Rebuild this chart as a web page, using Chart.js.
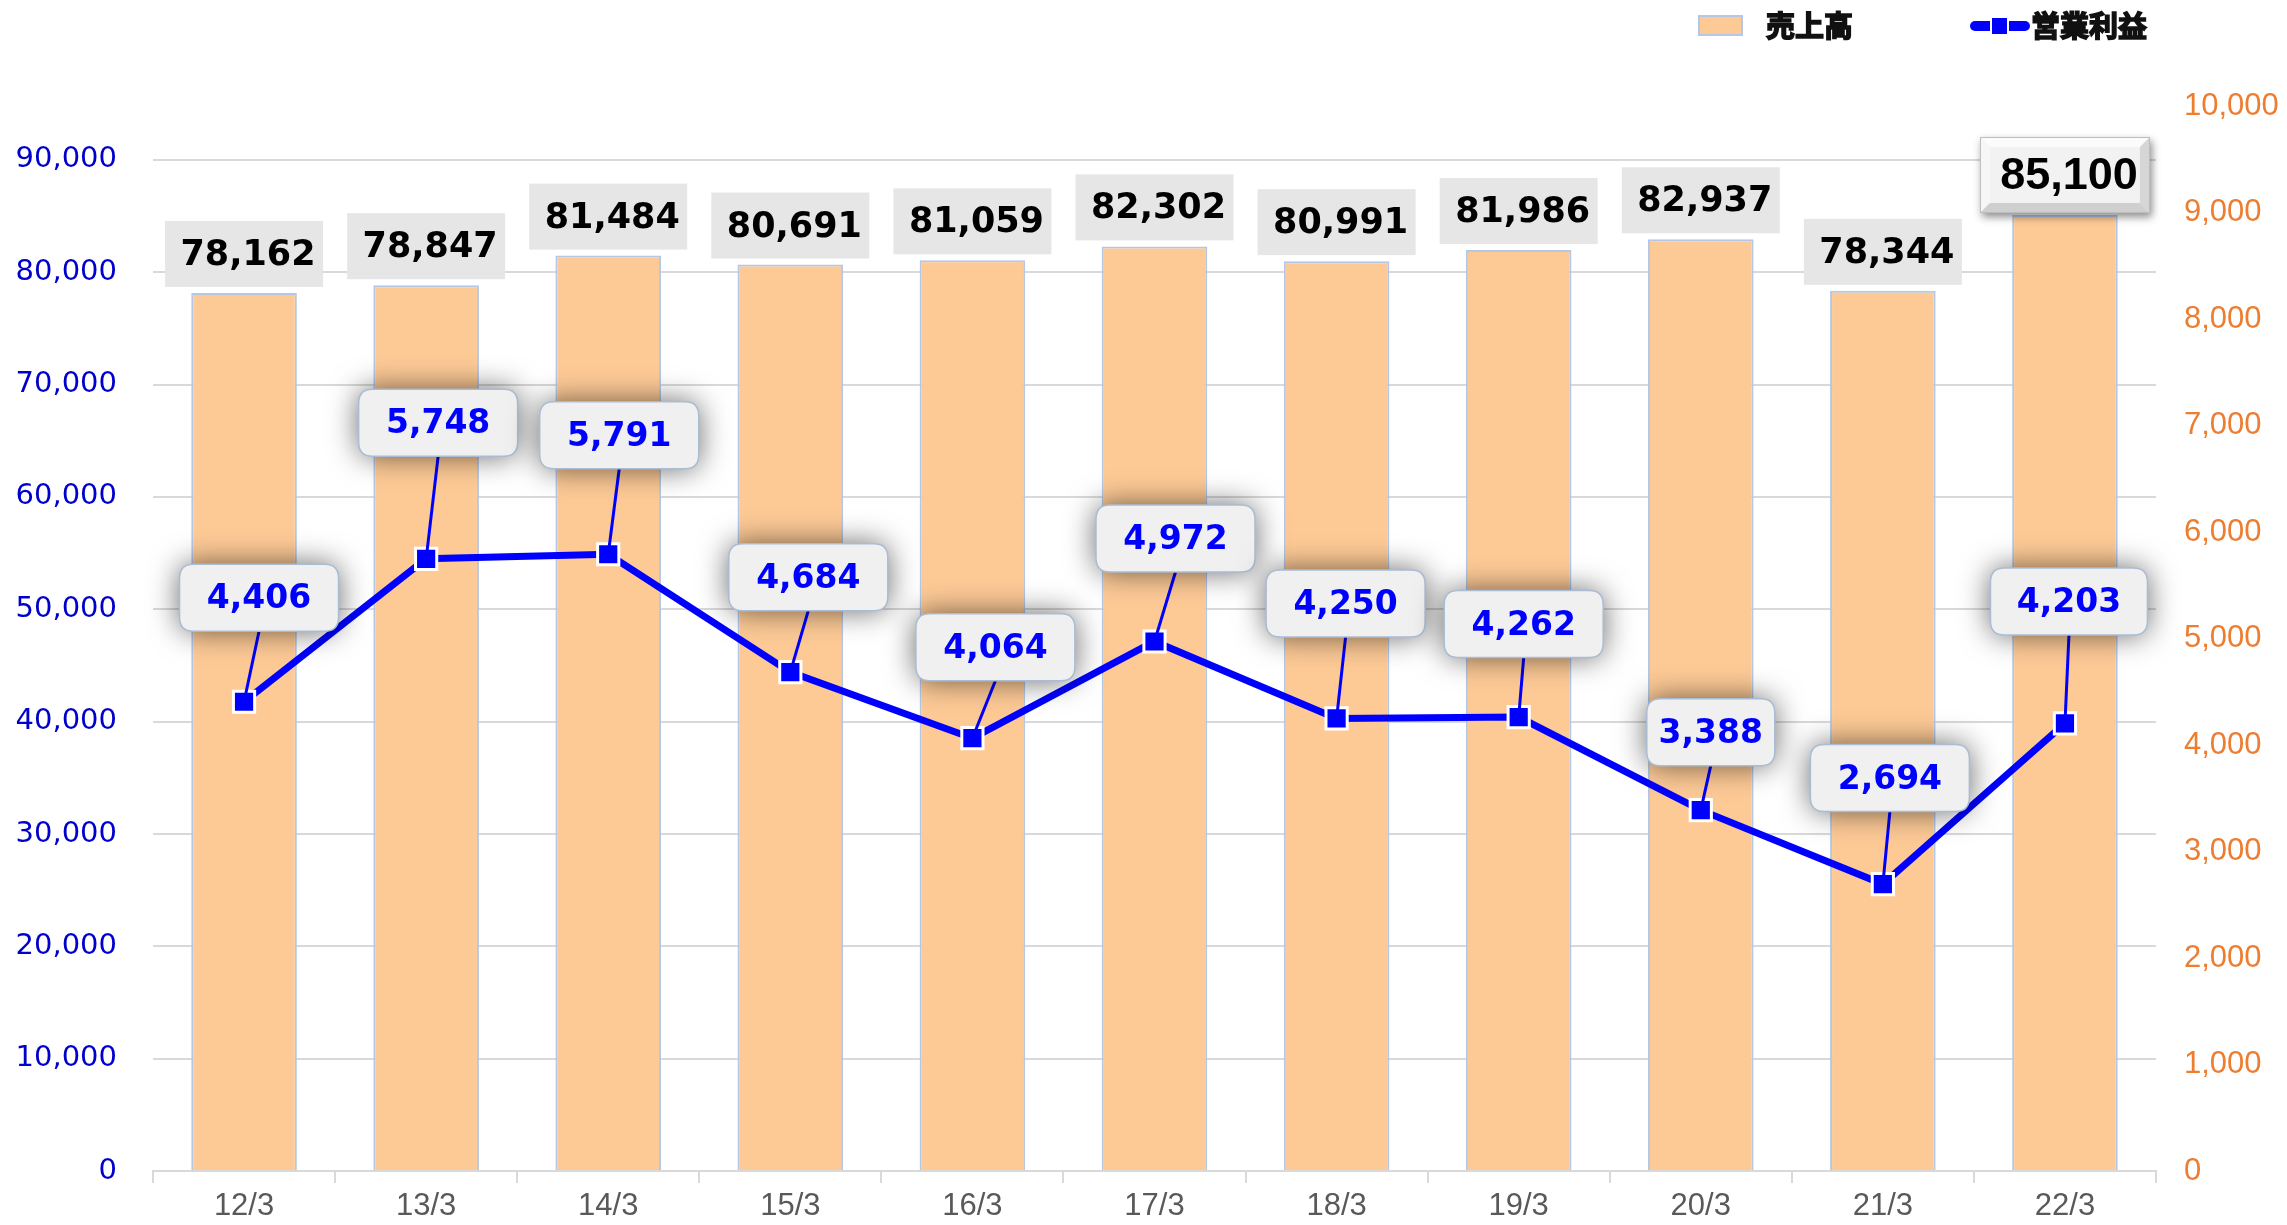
<!DOCTYPE html>
<html>
<head>
<meta charset="utf-8">
<script src="https://cdn.jsdelivr.net/npm/chart.js@4.4.1/dist/chart.umd.min.js"></script>
<style>
  html, body { margin: 0; padding: 0; background: #fff; }
  #wrap { width: 2287px; height: 1225px; }
</style>
</head>
<body>
<div id="wrap"><canvas id="chart" width="2287" height="1225"></canvas></div>
<script>
// data
const categories = ["12/3", "13/3", "14/3", "15/3", "16/3", "17/3", "18/3", "19/3", "20/3", "21/3", "22/3"];
const salesName = "売上高";
const profitName = "営業利益";
const sales = [78162, 78847, 81484, 80691, 81059, 82302, 80991, 81986, 82937, 78344, 85100];
const profit = [4406, 5748, 5791, 4684, 4064, 4972, 4250, 4262, 3388, 2694, 4203];
const leftTicks = [0, 10000, 20000, 30000, 40000, 50000, 60000, 70000, 80000, 90000];

// where the profit callouts sit, relative to their point (px), and how wide they are
const calloutDx = [15, 12, 11, 18, 23, 21, 9, 5, 10, 7, 4];
const calloutDy = [-104, -136, -119, -95, -91, -103, -115, -93, -78, -106, -122];
const calloutW = [159, 159, 159, 159, 159, 159, 159, 159, 128, 159, 157];

const BAR_FILL = "#FDCA96";
const BAR_EDGE = "#B4C7E7";
const LINE_BLUE = "#0000FF";

const fmt = v => Number(v).toLocaleString("en-US");

function roundRect(ctx, x, y, w, h, r) {
    ctx.beginPath();
    ctx.moveTo(x + r, y);
    ctx.lineTo(x + w - r, y);
    ctx.quadraticCurveTo(x + w, y, x + w, y + r);
    ctx.lineTo(x + w, y + h - r);
    ctx.quadraticCurveTo(x + w, y + h, x + w - r, y + h);
    ctx.lineTo(x + r, y + h);
    ctx.quadraticCurveTo(x, y + h, x, y + h - r);
    ctx.lineTo(x, y + r);
    ctx.quadraticCurveTo(x, y, x + r, y);
    ctx.closePath();
}

// bevelled box for the last sales label
function bevelBox(ctx, x, y, w, h) {
    const b = 10;
    ctx.save();
    ctx.shadowColor = "rgba(0,0,0,0.45)";
    ctx.shadowBlur = 8;
    ctx.shadowOffsetX = 2;
    ctx.shadowOffsetY = 4;
    ctx.fillStyle = "#f2f2f2";
    ctx.fillRect(x, y, w, h);
    ctx.restore();
    const poly = (pts, c) => {
        ctx.beginPath();
        ctx.moveTo(pts[0][0], pts[0][1]);
        for (let i = 1; i < pts.length; i++) ctx.lineTo(pts[i][0], pts[i][1]);
        ctx.closePath();
        ctx.fillStyle = c;
        ctx.fill();
    };
    poly([[x, y], [x + w, y], [x + w - b, y + b], [x + b, y + b]], "#fbfbfb");
    poly([[x, y], [x + b, y + b], [x + b, y + h - b], [x, y + h]], "#f6f6f6");
    poly([[x + w, y], [x + w, y + h], [x + w - b, y + h - b], [x + w - b, y + b]], "#d6d6d6");
    poly([[x, y + h], [x + w, y + h], [x + w - b, y + h - b], [x + b, y + h - b]], "#cfcfcf");
    ctx.strokeStyle = "#bdbdbd";
    ctx.lineWidth = 1;
    ctx.strokeRect(x + 0.5, y + 0.5, w - 1, h - 1);
}

const labelPlugin = {
    id: "labels",
    afterDatasetsDraw(chart) {
        const ctx = chart.ctx;
        const bars = chart.getDatasetMeta(0).data;
        const pts = chart.getDatasetMeta(1).data;

        // sales labels
        ctx.save();
        bars.forEach((el, i) => {
            const last = i === bars.length - 1;
            let w = 158, h = 66, gap = 6;
            if (last) { w = 170; h = 76; gap = 2; }
            const x = el.x - w / 2;
            const y = el.y - gap - h;
            if (last) {
                bevelBox(ctx, x, y, w, h);
                ctx.font = "bold 45px 'Liberation Sans'";
            } else {
                ctx.fillStyle = "#e6e6e6";
                ctx.fillRect(x, y, w, h);
                ctx.font = "bold 35px 'DejaVu Sans'";
            }
            ctx.fillStyle = "#000";
            ctx.textAlign = "center";
            ctx.textBaseline = "middle";
            ctx.fillText(fmt(sales[i]), el.x + 4, y + h / 2 + 2);
        });
        ctx.restore();

        // profit callouts
        ctx.save();
        const h = 67;
        pts.forEach((p, i) => {
            const cx = p.x + calloutDx[i];
            const cy = p.y + calloutDy[i];
            ctx.strokeStyle = LINE_BLUE;
            ctx.lineWidth = 3;
            ctx.beginPath();
            ctx.moveTo(cx, cy + h / 2);
            ctx.lineTo(p.x, p.y);
            ctx.stroke();
        });
        pts.forEach((p, i) => {
            const w = calloutW[i];
            const cx = p.x + calloutDx[i];
            const cy = p.y + calloutDy[i];
            ctx.save();
            ctx.shadowColor = "rgba(0,0,0,0.6)";
            ctx.shadowBlur = 30;
            roundRect(ctx, cx - w / 2, cy - h / 2, w, h, 14);
            ctx.fillStyle = "#f0f0f0";
            ctx.fill();
            ctx.restore();
            roundRect(ctx, cx - w / 2, cy - h / 2, w, h, 14);
            ctx.strokeStyle = "#a9bcd3";
            ctx.lineWidth = 1.5;
            ctx.stroke();
            ctx.fillStyle = LINE_BLUE;
            ctx.font = "bold 33px 'DejaVu Sans'";
            ctx.textAlign = "center";
            ctx.textBaseline = "middle";
            ctx.fillText(fmt(profit[i]), cx, cy + 2);
        });
        ctx.restore();
    },
    afterDraw(chart) {
        // legend, top right
        const ctx = chart.ctx;
        ctx.save();
        ctx.fillStyle = BAR_FILL;
        ctx.fillRect(1699, 16, 43, 19);
        ctx.strokeStyle = BAR_EDGE;
        ctx.lineWidth = 2;
        ctx.strokeRect(1699, 16, 43, 19);

        const boldText = (t, x, y) => {
            ctx.font = "bold 29px 'Noto Sans CJK JP'";
            ctx.fillStyle = "#111";
            ctx.strokeStyle = "#111";
            ctx.lineWidth = 1.6;
            ctx.textBaseline = "middle";
            ctx.textAlign = "left";
            ctx.fillText(t, x, y);
            ctx.strokeText(t, x, y);
        };
        boldText(chart.data.datasets[0].label, 1766, 26);

        ctx.strokeStyle = LINE_BLUE;
        ctx.lineWidth = 10;
        ctx.lineCap = "round";
        ctx.beginPath();
        ctx.moveTo(1975, 26);
        ctx.lineTo(2025, 26);
        ctx.stroke();
        ctx.fillStyle = LINE_BLUE;
        ctx.strokeStyle = "#fff";
        ctx.lineWidth = 2;
        ctx.fillRect(1991, 17, 17, 18);
        ctx.strokeRect(1991, 17, 17, 18);
        boldText(chart.data.datasets[1].label, 2031, 26);
        ctx.restore();
    }
};

const chart = new Chart(document.getElementById("chart"), {
    data: {
        labels: categories,
        datasets: [{
            type: "bar",
            label: salesName,
            data: sales,
            yAxisID: "y",
            backgroundColor: BAR_FILL,
            borderColor: BAR_EDGE,
            borderWidth: 2,
            categoryPercentage: 1,
            barPercentage: 0.58,
            order: 2
        }, {
            type: "line",
            label: profitName,
            data: profit,
            yAxisID: "y1",
            borderColor: LINE_BLUE,
            borderWidth: 7,
            pointStyle: "rect",
            pointRadius: 15,
            pointBackgroundColor: LINE_BLUE,
            pointBorderColor: "#fff",
            pointBorderWidth: 3,
            tension: 0,
            order: 1
        }]
    },
    options: {
        responsive: false,
        animation: false,
        layout: { padding: { top: 106, left: 0, right: 0, bottom: 0 } },
        plugins: {
            legend: { display: false },
            tooltip: { enabled: false }
        },
        scales: {
            x: {
                offset: true,
                grid: {
                    offset: true,
                    drawOnChartArea: false,
                    drawTicks: true,
                    tickLength: 12,
                    color: "#d9d9d9",
                    lineWidth: 2
                },
                border: { display: true, color: "#d9d9d9", width: 2 },
                ticks: {
                    color: "#595959",
                    font: { family: "'Liberation Sans'", size: 31 },
                    padding: 5,
                    maxRotation: 0
                },
                afterFit(s) { s.height = 54; }
            },
            y: {
                position: "left",
                min: 0,
                max: 94800,
                afterBuildTicks(s) {
                    s.ticks = leftTicks.map(v => ({ value: v }));
                },
                grid: { color: "#d9d9d9", lineWidth: 2, drawTicks: false },
                border: { display: false },
                ticks: {
                    color: "#0000CC",
                    font: { family: "'DejaVu Sans'", size: 29 },
                    padding: 36,
                    callback: v => fmt(v)
                },
                afterFit(s) { s.width = 153; }
            },
            y1: {
                position: "right",
                min: 0,
                max: 10000,
                grid: { drawOnChartArea: false, drawTicks: false },
                border: { display: false },
                ticks: {
                    stepSize: 1000,
                    color: "#ED7D31",
                    font: { family: "'Liberation Sans'", size: 31 },
                    padding: 28,
                    callback: v => fmt(v)
                },
                afterFit(s) { s.width = 131; }
            }
        }
    },
    plugins: [labelPlugin]
});
</script>
</body>
</html>
